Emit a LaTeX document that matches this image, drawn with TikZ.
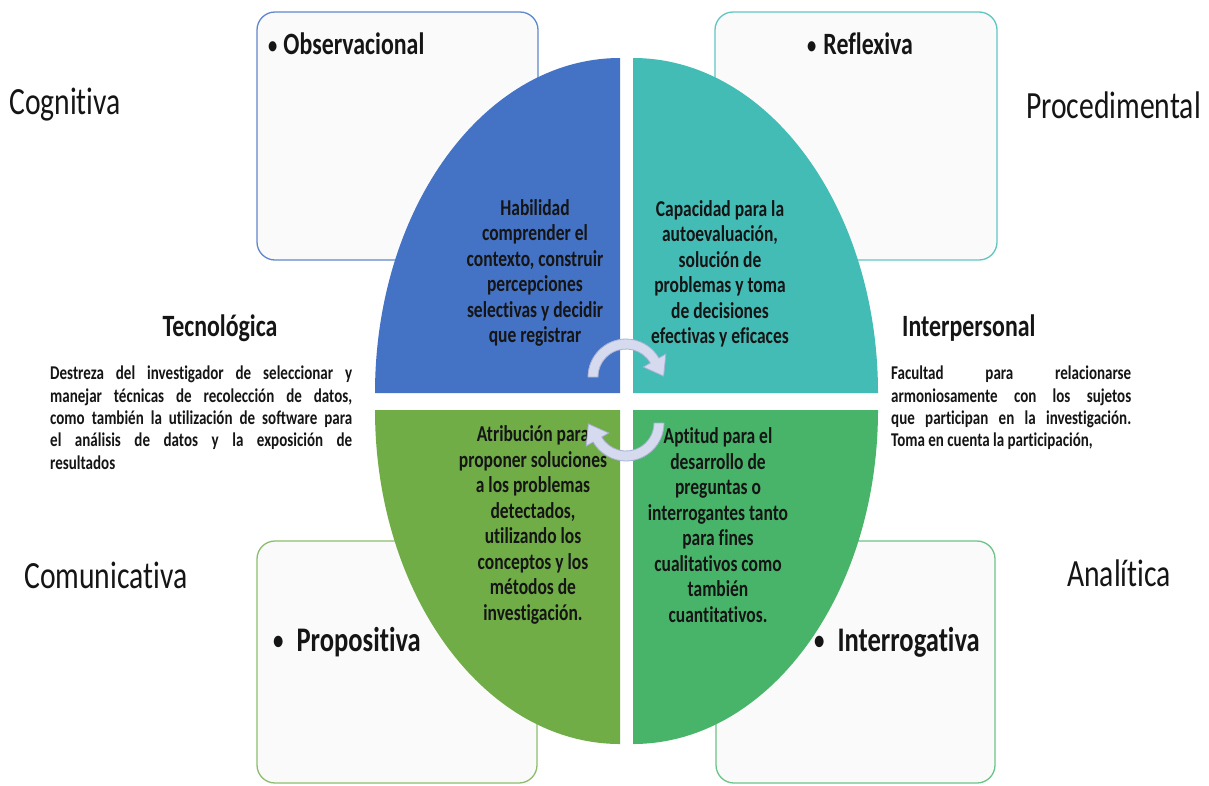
\documentclass[tikz,border=0pt]{standalone}
\usepackage{fontspec}
\setmainfont{Carlito}[FakeStretch=0.77, Ligatures=CommonOff]
\hyphenpenalty=10000
\exhyphenpenalty=10000
\definecolor{cblue}{HTML}{4472C4}
\definecolor{cteal}{HTML}{44BCB6}
\definecolor{cgreenL}{HTML}{70AD47}
\definecolor{cgreenR}{HTML}{48B46A}
\definecolor{boxfill}{HTML}{FAFAFA}
\definecolor{txt}{HTML}{151515}
\definecolor{arrowfill}{HTML}{D6DAEE}
\definecolor{arrowline}{HTML}{A8B0D4}
\newcommand{\bul}[1]{{\fontsize{#1}{#1}\selectfont\raisebox{1.5pt}{\textbullet}}}
\begin{document}
\begin{tikzpicture}[x=1pt,y=-1pt,
  box/.style={rounded corners=18pt, fill=boxfill, line width=1.3pt},
  qtext/.style={align=center, font=\bfseries\fontsize{22.7}{25.5}\selectfont, text=txt, inner sep=0pt},
  title/.style={anchor=west, font=\bfseries\fontsize{31}{34}\selectfont, text=txt, inner sep=0pt},
  bigtitle/.style={anchor=west, font=\bfseries\fontsize{34.5}{38}\selectfont, text=txt, inner sep=0pt},
  outer/.style={font=\fontsize{38.5}{42}\selectfont, text=txt, inner sep=0pt},
  head/.style={font=\bfseries\fontsize{31}{34}\selectfont, text=txt, inner sep=0pt},
  para/.style={align=justify, font=\bfseries\fontsize{19.5}{22.3}\selectfont, text=txt, inner sep=0pt, anchor=north west},
  cyc/.style={fill=arrowfill, draw=arrowline, line width=0.8pt}]
\useasboundingbox (0,0) rectangle (1209,785);
\fill[white] (0,0) rectangle (1209,785);

% background boxes
\draw[box, draw=cblue!85] (257,12) rectangle (538,260);
\draw[box, draw=cteal!85] (715,12) rectangle (997,260);
\draw[box, draw=cgreenL!80] (257,541) rectangle (537,783);
\draw[box, draw=cgreenR!80] (716,541) rectangle (995,783);

% quadrants of the ellipse
\fill[cblue] (620,393) -- (375,393) arc[start angle=180, end angle=270, x radius=245, y radius=335] -- cycle;
\fill[cteal] (633,393) -- (633,58) arc[start angle=270, end angle=360, x radius=245, y radius=335] -- cycle;
\fill[cgreenL] (620,410) -- (375,410) arc[start angle=180, end angle=90, x radius=245, y radius=334] -- cycle;
\fill[cgreenR] (633,410) -- (878,410) arc[start angle=0, end angle=90, x radius=245, y radius=334] -- cycle;

% box titles
\node[title] (obs) at (268,44) {\bul{24}\hspace{6pt}Observacional};
\node[title] (refl) at (807,44) {\bul{24}\hspace{7pt}Reflexiva};
\node[bigtitle] (prop) at (273,642) {\bul{27}\hspace{13pt}Propositiva};
\node[bigtitle] (interr) at (814,642) {\bul{27}\hspace{13pt}Interrogativa};

% outer labels
\node[outer, anchor=west] (cog) at (9,105) {Cognitiva};
\node[outer, anchor=east] (proc) at (1201,105) {Procedimental};
\node[outer, anchor=west] (com) at (24,575) {Comunicativa};
\node[outer, anchor=west] (ana) at (1067,573) {Analítica};

% side headings and paragraphs
\node[head] (tec) at (220,328) {Tecnológica};
\node[head, anchor=west] (inter) at (902,328) {Interpersonal};
\node[para, text width=302pt] (tecp) at (50,366) {Destreza del investigador de seleccionar y\linebreak manejar técnicas de recolección de datos,\linebreak como también la utilización de software para\linebreak el análisis de datos y la exposición de\linebreak resultados};
\node[para, text width=240pt] (interp) at (891,366) {Facultad para relacionarse\linebreak armoniosamente con los sujetos\linebreak que participan en la investigación.\linebreak Toma en cuenta la participación,};

% quadrant texts
\node[qtext] (qb) at (535,273) {Habilidad\\comprender el\\contexto, construir\\percepciones\\selectivas y decidir\\que registrar};
\node[qtext] (qt) at (720,274) {Capacidad para la\\autoevaluación,\\solución de\\problemas y toma\\de decisiones\\efectivas y eficaces};
\node[qtext] (qgl) at (533,525) {Atribución para\\proponer soluciones\\a los problemas\\detectados,\\utilizando los\\conceptos y los\\métodos de\\investigación.};
\node[qtext] (qgr) at (718,525) {Aptitud para el\\desarrollo de\\preguntas o\\interrogantes tanto\\para fines\\cualitativos como\\también\\cuantitativos.};

% circular arrows
\begin{scope}[shift={(626,400)}]
  \begin{scope}[shift={(0,-23)}]
    \path[cyc] (180:38) arc[start angle=180, end angle=330, radius=38] -- (330:46) -- (37.6,-0.9) -- (330:20) -- (330:28) arc[start angle=330, end angle=180, radius=28] -- cycle;
  \end{scope}
  \begin{scope}[rotate=180, shift={(0,-23)}]
    \path[cyc] (180:38) arc[start angle=180, end angle=330, radius=38] -- (330:46) -- (37.6,-0.9) -- (330:20) -- (330:28) arc[start angle=330, end angle=180, radius=28] -- cycle;
  \end{scope}
\end{scope}
\end{tikzpicture}
\end{document}
